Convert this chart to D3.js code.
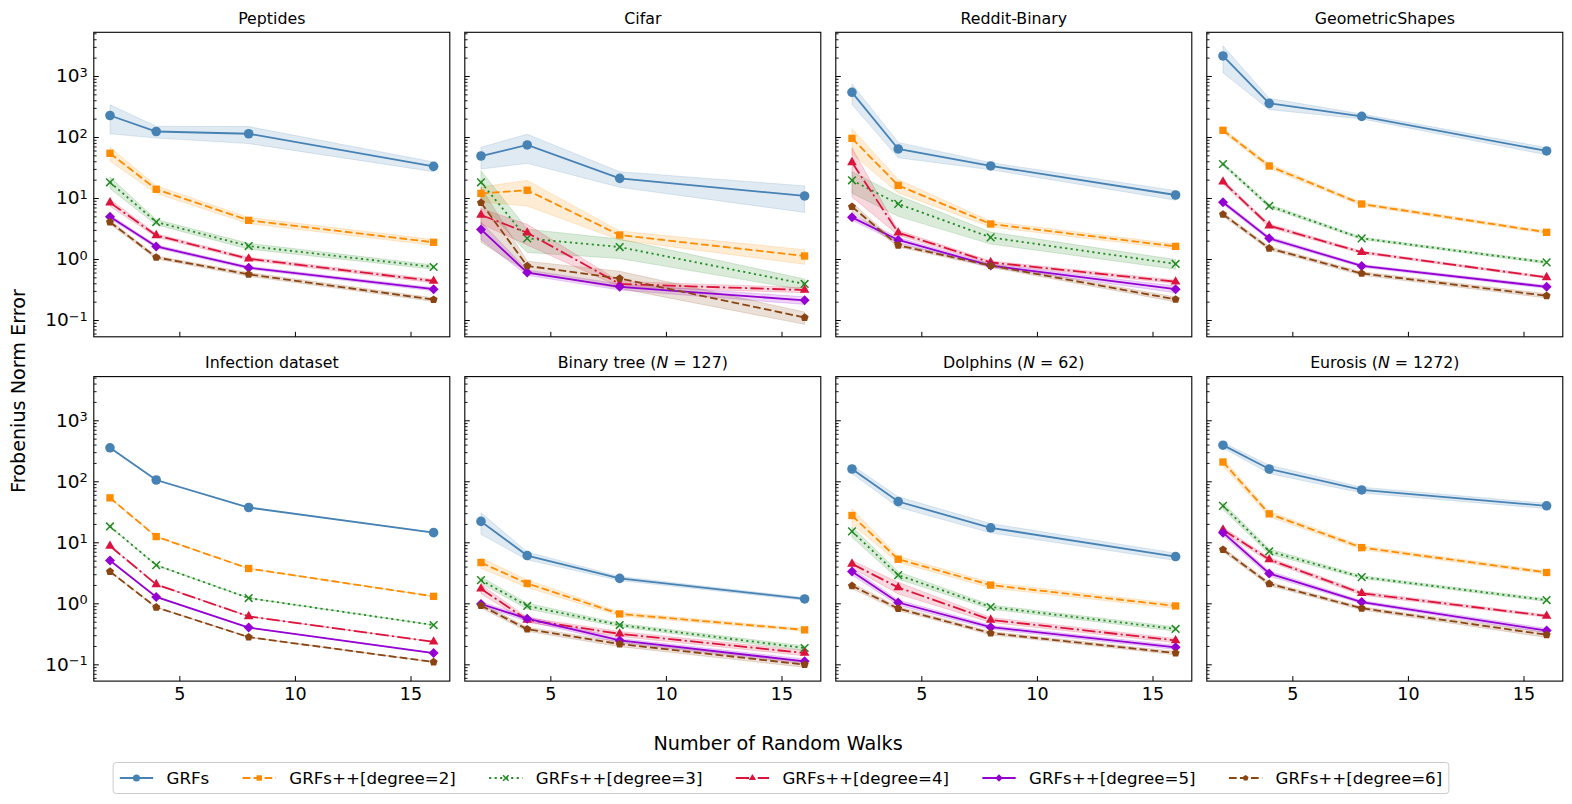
<!DOCTYPE html>
<html><head><meta charset="utf-8">
<script src="https://cdn.jsdelivr.net/npm/d3@7"></script>
<style>body{margin:0;background:#fff}svg{display:block}text{font-family:"DejaVu Sans",sans-serif;fill:#000}</style>
</head><body><svg id="c" width="1572" height="804"></svg>
<script>
// ---------------- DATA ----------------
const walks = [2, 4, 8, 16];
const seriesNames = ["GRFs","GRFs++[degree=2]","GRFs++[degree=3]","GRFs++[degree=4]","GRFs++[degree=5]","GRFs++[degree=6]"];
const datasetTitles = ["Peptides","Cifar","Reddit-Binary","GeometricShapes","Infection dataset","Binary tree (N = 127)","Dolphins (N = 62)","Eurosis (N = 1272)"];
const yMajorTicks = [0.1, 1, 10, 100, 1000];
const xTicks = [5, 10, 15];

// rows: GRFs, deg2 ... deg6 ; columns: walks 2,4,8,16
const peptidesMean = [[225,123,113,33],[54,13.9,4.3,1.88],[18.1,4.04,1.63,0.74],[8.4,2.44,1.01,0.436],[4.94,1.61,0.72,0.32],[4.04,1.065,0.56,0.216]];
const peptidesStd  = [[112,27,35,6],[14,2,0.5,0.2],[3.9,0.4,0.18,0.06],[1.1,0.15,0.06,0.03],[0.35,0.1,0.04,0.02],[0.3,0.06,0.04,0.015]];
const cifarMean = [[48.8,74,21,10.8],[11.9,13.4,2.47,1.12],[18.1,2.18,1.57,0.39],[5.26,2.7,0.39,0.31],[3.06,0.60,0.35,0.21],[8.38,0.77,0.48,0.11]];
const cifarStd  = [[19,37,6,5],[3.3,6,0.42,0.3],[10,0.9,0.55,0.08],[1.5,1.0,0.04,0.03],[1.0,0.06,0.04,0.03],[6.5,0.15,0.15,0.025]];
const redditMean = [[540,63.6,33.5,11.2],[95,16.1,3.75,1.61],[19.5,8,2.26,0.83],[38.4,2.7,0.88,0.425],[4.82,2.05,0.78,0.32],[7.2,1.68,0.78,0.218]];
const redditStd  = [[200,18,4.5,2],[42,4,0.4,0.15],[7.5,3,0.5,0.15],[28,0.25,0.05,0.03],[0.5,0.2,0.05,0.04],[1.2,0.1,0.05,0.02]];
const geoMean = [[2130,356,218,59],[128.6,33.5,7.97,2.74],[36.1,7.4,2.18,0.88],[18.5,3.52,1.29,0.50],[8.5,2.18,0.77,0.35],[5.4,1.5,0.58,0.25]];
const geoStd  = [[1000,75,20,8],[10,3,0.5,0.15],[2,0.5,0.1,0.04],[1.5,0.25,0.06,0.02],[0.6,0.15,0.04,0.02],[0.4,0.1,0.04,0.02]];
const infectionMean = [[354,105,37.2,14.4],[53.5,12.4,3.72,1.30],[18.2,4.22,1.22,0.44],[8.7,2.04,0.61,0.234],[5.02,1.27,0.40,0.153],[3.32,0.86,0.279,0.109]];
const infectionStd  = [[4,1.2,0.4,0.15],[0.6,0.13,0.04,0.014],[0.2,0.05,0.013,0.005],[0.1,0.02,0.007,0.003],[0.05,0.013,0.004,0.002],[0.035,0.009,0.003,0.001]];
const binaryMean = [[22,6.06,2.56,1.18],[4.66,2.12,0.67,0.367],[2.4,0.905,0.44,0.185],[1.73,0.535,0.316,0.153],[0.975,0.56,0.246,0.112],[0.916,0.377,0.215,0.099]];
const binaryStd  = [[8.5,0.9,0.2,0.06],[0.9,0.3,0.05,0.02],[0.3,0.1,0.03,0.015],[0.3,0.05,0.03,0.015],[0.08,0.05,0.02,0.01],[0.08,0.03,0.02,0.01]];
const dolphinsMean = [[159,46.6,17.3,5.84],[27.5,5.28,1.99,0.905],[15.1,2.9,0.87,0.38],[4.43,1.82,0.535,0.246],[3.32,1.03,0.406,0.19],[1.94,0.82,0.324,0.153]];
const dolphinsStd  = [[25,9,3,0.8],[8,0.6,0.2,0.08],[3,0.4,0.07,0.03],[0.6,0.4,0.05,0.02],[0.4,0.1,0.03,0.015],[0.2,0.06,0.02,0.01]];
const eurosisMean = [[391,159,72.2,39.6],[207,29.3,8.19,3.2],[39.6,7.13,2.69,1.13],[16.1,5.22,1.46,0.62],[14.4,3.08,1.05,0.358],[7.59,2.09,0.83,0.305]];
const eurosisStd  = [[40,25,8,4],[30,3,0.6,0.2],[5,0.7,0.15,0.06],[1.5,0.4,0.1,0.03],[1.5,0.3,0.06,0.03],[0.6,0.15,0.05,0.03]];

const panelMeans = [peptidesMean, cifarMean, redditMean, geoMean, infectionMean, binaryMean, dolphinsMean, eurosisMean];
const panelStds  = [peptidesStd, cifarStd, redditStd, geoStd, infectionStd, binaryStd, dolphinsStd, eurosisStd];

// ---------------- STYLE / LAYOUT ----------------
const svg = d3.select("#c");
const panelW = 356, panelH = 304.5;
const colLeft = i => 93.8 + 371 * i;
const rowTop = [32.3, 376.6];
const FONT = '"DejaVu Sans", sans-serif';

const symbolPentagon = { draw(ctx, size) {
  const r = Math.sqrt(size / 2.3776);
  for (let k = 0; k < 5; k++) {
    const a = -Math.PI / 2 + k * 2 * Math.PI / 5;
    const px = r * Math.cos(a), py = r * Math.sin(a);
    if (k) ctx.lineTo(px, py); else ctx.moveTo(px, py);
  }
  ctx.closePath();
}};
const styles = [
  {color:"#4682B4", dash:null, sym:d3.symbolCircle, size:72, rot:0, stroke:false},
  {color:"#FF8C00", dash:"7.7,3.3", sym:d3.symbolSquare, size:54, rot:0, stroke:false},
  {color:"#228B22", dash:"2.1,3.4", sym:d3.symbolX, size:40, rot:0, stroke:true},
  {color:"#DC143C", dash:"13.3,3.3,2.1,3.3", sym:d3.symbolTriangle, size:40, rot:0, stroke:false},
  {color:"#9400D3", dash:null, sym:d3.symbolSquare, size:50, rot:45, stroke:false},
  {color:"#8B4513", dash:"7.7,3.3", sym:symbolPentagon, size:42, rot:0, stroke:false}
];

function drawMarker(g, st, cx, cy, scale) {
  const p = g.append("path")
    .attr("d", d3.symbol().type(st.sym).size(st.size * scale)())
    .attr("transform", `translate(${cx},${cy}) rotate(${st.rot})`);
  if (st.stroke) p.attr("fill", "none").attr("stroke", st.color).attr("stroke-width", 1.5);
  else p.attr("fill", st.color);
}

function supLabel(sel, v) {
  const e = Math.round(Math.log10(v));
  sel.text("");
  sel.append("tspan").text("10");
  sel.append("tspan").attr("dy", "-0.45em").attr("font-size", "0.7em").text(e < 0 ? "\u2212" + (-e) : String(e));
}

const yDomain = [Math.pow(10, -1.275), Math.pow(10, 3.716)];
const minorTicks = [];
for (let k = -2; k <= 3; k++) for (let m = 2; m <= 9; m++) {
  const v = m * Math.pow(10, k);
  if (v >= yDomain[0] && v <= yDomain[1]) minorTicks.push(v);
}

datasetTitles.forEach((title, p) => {
  const r = Math.floor(p / 4), c = p % 4;
  const L = colLeft(c), T = rowTop[r];
  const x = d3.scaleLinear().domain([1.3, 16.7]).range([L, L + panelW]);
  const y = d3.scaleLog().domain(yDomain).range([T + panelH, T]);
  const g = svg.append("g");
  const means = panelMeans[p], stds = panelStds[p];

  // bands
  means.forEach((m, s) => {
    const pts = walks.map((w, i) => ({w, lo: m[i] - stds[s][i], hi: m[i] + stds[s][i]}));
    g.append("path")
      .attr("d", d3.area().x(d => x(d.w)).y0(d => y(d.lo)).y1(d => y(d.hi))(pts))
      .attr("fill", styles[s].color).attr("fill-opacity", 0.17)
      .attr("stroke", styles[s].color).attr("stroke-opacity", 0.17).attr("stroke-width", 1);
  });
  // lines + markers
  means.forEach((m, s) => {
    const st = styles[s];
    const pts = walks.map((w, i) => ({w, v: m[i]}));
    const ln = g.append("path")
      .attr("d", d3.line().x(d => x(d.w)).y(d => y(d.v))(pts))
      .attr("fill", "none").attr("stroke", st.color).attr("stroke-width", 1.8);
    if (st.dash) ln.attr("stroke-dasharray", st.dash);
    pts.forEach(d => drawMarker(g, st, x(d.w), y(d.v), 1));
  });

  // axes
  const yMaj = g.append("g").attr("transform", `translate(${L},0)`)
    .call(d3.axisLeft(y).tickValues(yMajorTicks).tickSize(-5).tickPadding(6));
  yMaj.select(".domain").remove();
  yMaj.selectAll("line").attr("stroke-width", 1);
  if (c === 0) {
    yMaj.selectAll("text").attr("font-size", 18.5).attr("font-family", FONT).each(function(d){ supLabel(d3.select(this), d); });
  } else yMaj.selectAll("text").remove();
  const yMin = g.append("g").attr("transform", `translate(${L},0)`)
    .call(d3.axisLeft(y).tickValues(minorTicks).tickSize(-2.8).tickFormat(""));
  yMin.select(".domain").remove();
  yMin.selectAll("line").attr("stroke-width", 0.9);

  const xa = g.append("g").attr("transform", `translate(0,${T + panelH})`)
    .call(d3.axisBottom(x).tickValues(xTicks).tickSize(-5).tickPadding(6).tickFormat(d3.format("d")));
  xa.select(".domain").remove();
  xa.selectAll("line").attr("stroke-width", 1);
  if (r === 1) xa.selectAll("text").attr("font-size", 17.5).attr("font-family", FONT);
  else xa.selectAll("text").remove();

  // frame
  g.append("rect").attr("x", L).attr("y", T).attr("width", panelW).attr("height", panelH)
    .attr("fill", "none").attr("stroke", "#000").attr("stroke-width", 1.1);

  // title
  const t = g.append("text").attr("x", L + panelW / 2).attr("y", T - 8.3)
    .attr("text-anchor", "middle").attr("font-size", 15.8);
  const idx = title.indexOf("N =");
  if (idx >= 0) {
    t.append("tspan").text(title.slice(0, idx));
    t.append("tspan").attr("font-style", "italic").text("N");
    t.append("tspan").text(title.slice(idx + 1));
  } else t.text(title);
});

// axis titles
svg.append("text").attr("x", 778).attr("y", 750).attr("text-anchor", "middle")
  .attr("font-size", 19.2).text("Number of Random Walks");
svg.append("text").attr("transform", "translate(25,391) rotate(-90)").attr("text-anchor", "middle")
  .attr("font-size", 19.2).text("Frobenius Norm Error");

// legend
const lg = svg.append("g");
const fs = 16.67, handleLen = 2 * fs, textPad = 0.8 * fs, colSp = 2 * fs, bpad = 0.4 * fs;
const legendY = 778;
const box = lg.append("rect");
let cur = 0;
const items = [];
seriesNames.forEach((name, s) => {
  const it = lg.append("g");
  const st = styles[s];
  const ln = it.append("line").attr("x1", 0).attr("x2", handleLen).attr("y1", 0).attr("y2", 0)
    .attr("stroke", st.color).attr("stroke-width", 1.8);
  if (st.dash) ln.attr("stroke-dasharray", st.dash);
  drawMarker(it, st, handleLen / 2, 0, 0.55);
  const tx = it.append("text").attr("x", handleLen + textPad).attr("y", 0).attr("dy", "0.36em")
    .attr("font-size", fs).text(name);
  const w = handleLen + textPad + tx.node().getComputedTextLength();
  items.push({it, off: cur});
  cur += w + colSp;
});
const total = cur - colSp + 2 * bpad;
const left = 781 - total / 2;
items.forEach(d => d.it.attr("transform", `translate(${left + bpad + d.off},${legendY})`));
box.attr("x", left).attr("y", legendY - 15.5).attr("width", total).attr("height", 31)
  .attr("rx", 3).attr("fill", "#fff").attr("fill-opacity", 0.8).attr("stroke", "#cccccc").attr("stroke-width", 1);
</script></body></html>
